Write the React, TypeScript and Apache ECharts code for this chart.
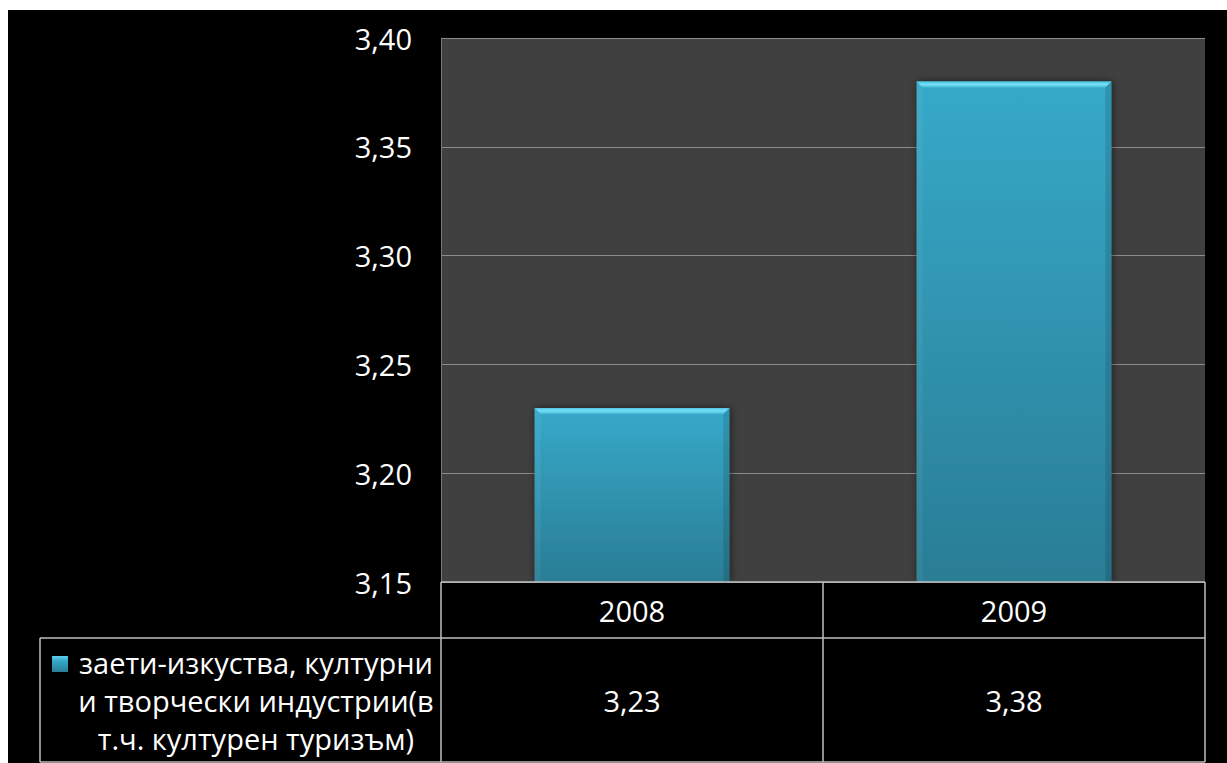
import React, { useEffect, useRef } from "react";
import * as echarts from "echarts";

const categories = ["2008", "2009"];
const values = [3.23, 3.38];
const yMin = 3.15;
const yMax = 3.4;
const yStep = 0.05;
const legendLines = ["заети-изкуства, културни", "и творчески индустрии(в", "т.ч. културен туризъм)"];

const fmt = (v: number) => v.toFixed(2).replace(".", ",");

const W = 1219;
const H = 753;
const GL = 433;
const GR = 22;
const GT = 28;
const GB = 181;
const FS = 29;
const FONT = "'Open Sans', 'Noto Sans', sans-serif";
const BORDER = "#bfbfbf";

export default function App() {
  const ref = useRef<HTMLDivElement>(null);
  useEffect(() => {
    if (!ref.current) return;
    const chart = echarts.init(ref.current, null, { renderer: "svg" });
    const plotRight = W - GR;
    const plotBottom = H - GB;
    const plotW = plotRight - GL;
    const row1Bottom = plotBottom + 56;
    const tableBottom = H - 1;
    const tableLeft = 32;
    const n = categories.length;
    const lineStyle = { stroke: BORDER, lineWidth: 1.5 };
    const graphics: any[] = [];
    const hline = (x1: number, x2: number, y: number) =>
      graphics.push({ type: "line", shape: { x1, y1: y, x2, y2: y }, style: lineStyle, z: 10 });
    const vline = (x: number, y1: number, y2: number) =>
      graphics.push({ type: "line", shape: { x1: x, y1, x2: x, y2 }, style: lineStyle, z: 10 });
    hline(GL, plotRight, plotBottom);
    hline(tableLeft, plotRight, row1Bottom);
    hline(tableLeft, plotRight, tableBottom);
    for (let i = 0; i <= n; i++) vline(GL + (plotW * i) / n, plotBottom, tableBottom);
    vline(tableLeft, row1Bottom, tableBottom);
    values.forEach((v, i) => {
      graphics.push({
        type: "text",
        x: GL + (plotW * (i + 0.5)) / n,
        y: 690,
        style: {
          text: fmt(v),
          fill: "#ffffff",
          font: `${FS}px ${FONT}`,
          textAlign: "center",
          textVerticalAlign: "middle",
        },
      });
    });
    graphics.push({
      type: "rect",
      shape: { x: 44, y: 646, width: 16, height: 16 },
      style: {
        fill: new echarts.graphic.LinearGradient(0, 0, 0, 1, [
          { offset: 0, color: "#5fd0ec" },
          { offset: 0.3, color: "#36a9c9" },
          { offset: 1, color: "#2a7d95" },
        ]),
      },
    });
    legendLines.forEach((t, i) => {
      graphics.push({
        type: "text",
        x: 248,
        y: 652 + i * 38,
        style: {
          text: t,
          fill: "#ffffff",
          font: `${FS}px ${FONT}`,
          textAlign: "center",
          textVerticalAlign: "middle",
        },
      });
    });

    chart.setOption({
      animation: false,
      backgroundColor: "#000000",
      grid: {
        left: GL,
        right: GR,
        top: GT,
        bottom: GB,
        show: true,
        backgroundColor: "#404040",
        borderWidth: 0,
      },
      xAxis: {
        type: "category",
        data: categories,
        axisLine: { show: false },
        axisTick: { show: false },
        axisLabel: {
          color: "#ffffff",
          fontSize: FS,
          fontFamily: FONT,
          margin: 13,
          lineHeight: 30,
        },
      },
      yAxis: {
        type: "value",
        min: yMin,
        max: yMax,
        interval: yStep,
        axisLine: { show: true, lineStyle: { color: "#7a7a7a", width: 1 } },
        axisTick: { show: false },
        splitLine: { show: true, lineStyle: { color: "#8c8c8c", width: 1 } },
        axisLabel: {
          color: "#ffffff",
          fontSize: FS,
          fontFamily: FONT,
          margin: 29,
          formatter: (v: number) => fmt(v),
        },
      },
      series: [
        {
          type: "custom",
          name: legendLines.join(" "),
          data: values.map((v, i) => [i, v]),
          z: 5,
          renderItem: (params: any, api: any) => {
            const xi = api.value(0);
            const v = api.value(1);
            const top = api.coord([xi, v]);
            const base = api.coord([xi, yMin]);
            const bw = api.size([1, 0])[0] * 0.51;
            const x0 = top[0] - bw / 2;
            const x1 = top[0] + bw / 2;
            const y0 = top[1];
            const y1 = base[1];
            const b = 6;
            return {
              type: "group",
              children: [
                {
                  type: "rect",
                  shape: { x: x0, y: y0, width: bw, height: y1 - y0 },
                  style: {
                    fill: new echarts.graphic.LinearGradient(0, 0, 0, 1, [
                      { offset: 0, color: "#36a9c9" },
                      { offset: 1, color: "#2a7d95" },
                    ]),
                    shadowBlur: 8,
                    shadowColor: "rgba(0,0,0,0.55)",
                    shadowOffsetX: 1,
                    shadowOffsetY: 0,
                  },
                },
                {
                  type: "polygon",
                  shape: { points: [[x0, y0], [x1, y0], [x1 - b, y0 + b], [x0 + b, y0 + b]] },
                  style: {
                    fill: new echarts.graphic.LinearGradient(0, 0, 0, 1, [
                      { offset: 0, color: "#4fc4e2" },
                      { offset: 0.5, color: "#74e0f7" },
                      { offset: 1, color: "#45b8d6" },
                    ]),
                  },
                },
                {
                  type: "polygon",
                  shape: { points: [[x1, y0], [x1, y1], [x1 - b, y1], [x1 - b, y0 + b]] },
                  style: { fill: "rgba(0,0,0,0.12)" },
                },
                {
                  type: "polygon",
                  shape: { points: [[x0, y0], [x0 + b, y0 + b], [x0 + b, y1], [x0, y1]] },
                  style: { fill: "rgba(255,255,255,0.05)" },
                },
              ],
            };
          },
        },
      ],
      graphic: graphics,
    });
    return () => chart.dispose();
  }, []);
  return (
    <div style={{ position: "fixed", left: 0, top: 0, width: 1227, height: 763, background: "#ffffff" }}>
      <div ref={ref} style={{ position: "absolute", left: 8, top: 10, width: W, height: H }} />
    </div>
  );
}
